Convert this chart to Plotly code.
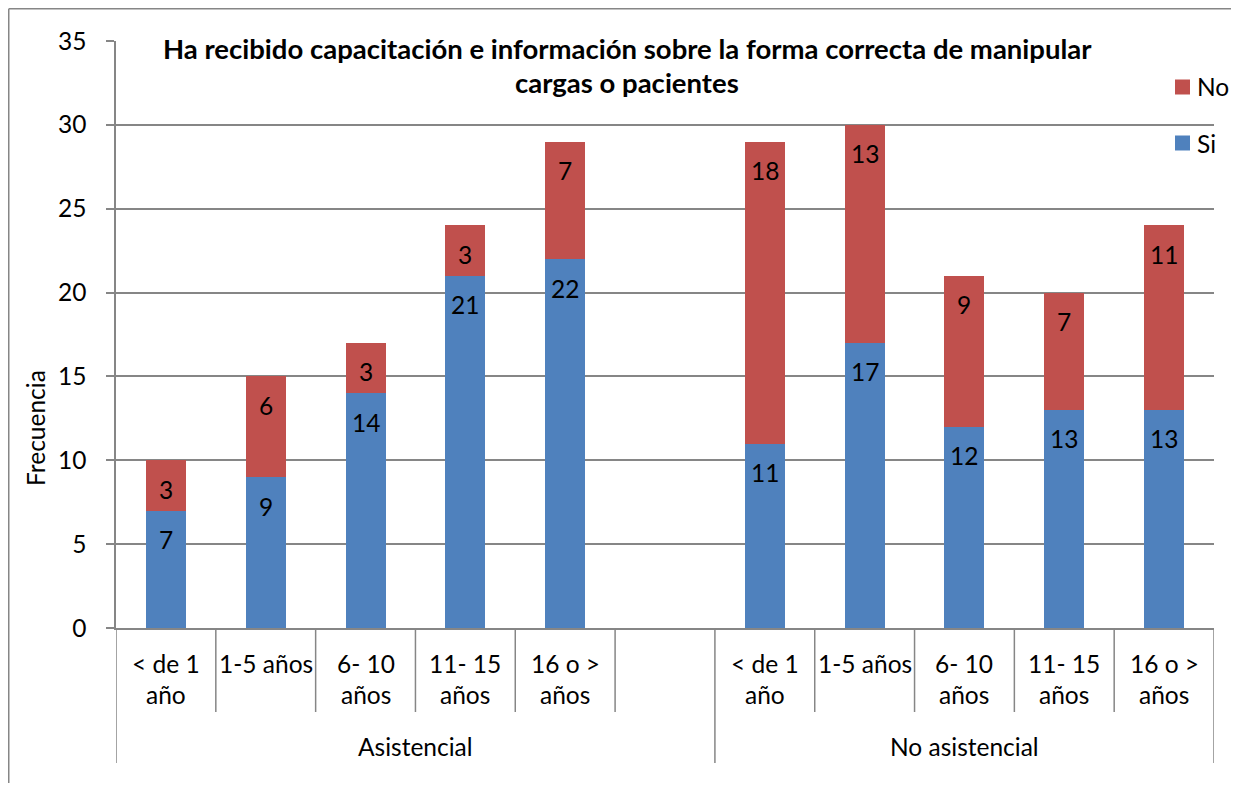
import plotly.graph_objects as go

groups = ["Asistencial", "No asistencial"]
categories = ["< de 1<br>año", "1-5 años", "6- 10<br>años", "11- 15<br>años", "16 o ><br>años"]
si_asist = [7, 9, 14, 21, 22]
no_asist = [3, 6, 3, 3, 7]
si_noasist = [11, 17, 12, 13, 13]
no_noasist = [18, 13, 9, 7, 11]
yticks = [0, 5, 10, 15, 20, 25, 30, 35]

title_lines = ["Ha recibido capacitación e información sobre la forma correcta de manipular",
               "cargas o pacientes"]

BLUE = "#4F81BD"
RED = "#C0504D"
GRID = "#868686"
FONT = "Lato"
FS = 24.5

# figure geometry (page body has an 8px margin)
W, Hfig = 1223, 775
L, T = 108, 33
PW, PH = 1098, 587
R = W - L - PW
B = Hfig - T - PH

def px(fx):
    return (fx - L) / PW

def py(fy):
    return (T + PH - fy) / PH

# slot positions: 5 categories, an empty slot, 5 categories
pos = [0, 1, 2, 3, 4, 6, 7, 8, 9, 10]
si = si_asist + si_noasist
no = no_asist + no_noasist
labels = categories + categories

fig = go.Figure()
fig.add_trace(go.Bar(x=pos, y=si, name="Si", marker=dict(color=BLUE, line=dict(width=0)),
                     width=0.4, showlegend=False))
fig.add_trace(go.Bar(x=pos, y=no, name="No", marker=dict(color=RED, line=dict(width=0)),
                     width=0.4, showlegend=False))

ann = []
# data labels (inside end)
for p, s, n in zip(pos, si, no):
    ann.append(dict(x=p, y=s, xref="x", yref="y", text=str(s), showarrow=False,
                    yanchor="middle", yshift=-29, font=dict(size=FS, color="black", family=FONT)))
    ann.append(dict(x=p, y=s + n, xref="x", yref="y", text=str(n), showarrow=False,
                    yanchor="middle", yshift=-29, font=dict(size=FS, color="black", family=FONT)))

# category labels
for p, lab in zip(pos, labels):
    for i, line in enumerate(lab.split("<br>")):
        ann.append(dict(x=p, y=0, xref="x", yref="y", text=line, showarrow=False,
                        yanchor="middle", yshift=-35 - 31 * i,
                        font=dict(size=FS, color="black", family=FONT)))

# group labels
for gx, g in zip([2.5, 8], groups):
    ann.append(dict(x=gx, y=0, xref="x", yref="y", text=g, showarrow=False,
                    yanchor="middle", yshift=-118, font=dict(size=FS, color="black", family=FONT)))

# title
for fy, t in zip([40, 75], title_lines):
    ann.append(dict(x=px(619), y=py(fy), xref="paper", yref="paper", text="<b>" + t + "</b>",
                    showarrow=False, xanchor="center", yanchor="middle",
                    font=dict(size=27.5, color="black", family=FONT)))

# y axis title
ann.append(dict(x=px(27), y=py(420), xref="paper", yref="paper", text="Frecuencia", textangle=-90,
                showarrow=False, xanchor="center", yanchor="middle",
                font=dict(size=FS, color="black", family=FONT)))

# legend (manual)
shapes = []
for name, col, cy in [("No", RED, 79), ("Si", BLUE, 135)]:
    shapes.append(dict(type="rect", xref="paper", yref="paper",
                       x0=px(1167), x1=px(1182), y0=py(cy + 7.5), y1=py(cy - 7.5),
                       line=dict(width=0), fillcolor=col))
    ann.append(dict(x=px(1187), y=py(cy), xref="paper", yref="paper", text=name, showarrow=False,
                    xanchor="left", yanchor="middle", font=dict(size=FS, color="black", family=FONT)))

# category separators
for k in range(12):
    xk = k - 0.5
    long_line = k in (0, 6, 11)
    drop = 135 if long_line else 84
    shapes.append(dict(type="line", xref="x", yref="paper", x0=xk, x1=xk, y0=0, y1=-drop / PH,
                       line=dict(color=GRID, width=1.5)))
# outer chart border (left and top edges visible)
shapes.append(dict(type="line", xref="paper", yref="paper",
                   x0=px(0.75), x1=px(0.75), y0=py(Hfig), y1=py(0.75),
                   line=dict(color=GRID, width=1.5)))
shapes.append(dict(type="line", xref="paper", yref="paper",
                   x0=px(0.75), x1=px(W), y0=py(0.75), y1=py(0.75),
                   line=dict(color=GRID, width=1.5)))

fig.update_layout(
    width=W, height=Hfig,
    margin=dict(l=L, r=R, t=T, b=B, pad=0),
    paper_bgcolor="white", plot_bgcolor="white",
    barmode="stack", bargap=0,
    font=dict(family=FONT, size=FS, color="black"),
    showlegend=False,
    annotations=ann, shapes=shapes,
    xaxis=dict(range=[-0.5, 10.5], showticklabels=False, showgrid=False, zeroline=False,
               showline=True, linecolor=GRID, linewidth=1.5, ticks=""),
    yaxis=dict(range=[0, 35], tickvals=yticks, showgrid=True, gridcolor=GRID, gridwidth=1.5,
               zeroline=False, showline=True, linecolor=GRID, linewidth=1.5,
               ticks="outside", ticklen=8, tickcolor=GRID, tickwidth=1.5,
               ticklabelstandoff=15,
               tickfont=dict(size=FS, family=FONT, color="black")),
)

fig.write_html("out.html")
